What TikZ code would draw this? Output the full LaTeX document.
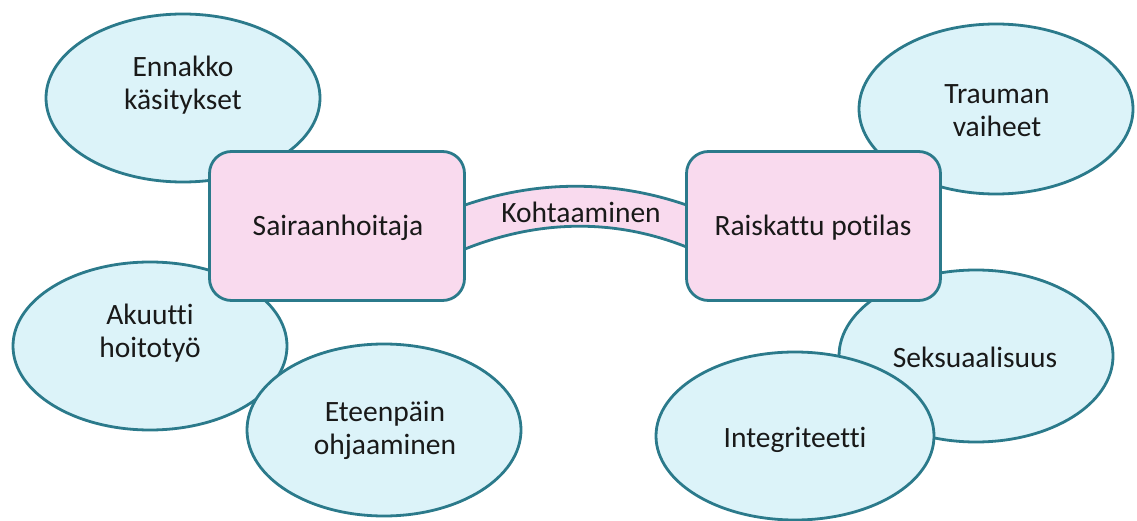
\documentclass[tikz,border=0pt]{standalone}
\usepackage{fontspec}
\setmainfont{Carlito}[Ligatures=NoCommon]
\usetikzlibrary{shapes.geometric,calc}
\definecolor{edge}{RGB}{43,122,139}
\definecolor{ovalfill}{RGB}{220,243,249}
\definecolor{boxfill}{RGB}{249,218,238}
\definecolor{ink}{RGB}{25,25,25}
\tikzset{
  oval/.style={ellipse, draw=edge, fill=ovalfill, line width=2.8pt, inner sep=0pt, minimum width=274pt, minimum height=170pt},
  hub/.style={rectangle, rounded corners=22pt, draw=edge, fill=boxfill, line width=2.8pt, inner sep=0pt, minimum width=255pt, minimum height=149pt},
  lbl/.style={text=ink, align=center, inner sep=0pt, font=\fontsize{29.5}{33}\selectfont},
  band/.style={draw=edge, fill=boxfill, line width=2.8pt}
}
\begin{document}
\begin{tikzpicture}[x=1pt,y=-1pt]
\useasboundingbox (0,0) rectangle (1137,521);
% ovals behind the hubs
\node[oval, minimum height=168pt] (e1) at (183,98) {};
\node[oval] (e2) at (996,109) {};
\node[oval, minimum height=168pt] (e3) at (150,346) {};
\node[oval, minimum height=172pt] (e4) at (384,430) {};
\node[oval, minimum height=172pt] (e5) at (976,356) {};
\node[oval, minimum width=278pt, minimum height=168pt] (e6) at (795,436) {};
% hubs (positions)
\coordinate (sc) at (337,226);
\coordinate (rc) at (813.5,226);
% band connector between hubs
\path (sc) ++(128,0) coordinate (sE);
\path (rc) ++(-127,0) coordinate (rW);
\draw[band] ($(sE)+(-10,-21)$) -- ($(sE)+(0,-21)$)
   .. controls ($(sE)+(73,-46)$) and ($(rW)+(-73,-46)$) .. ($(rW)+(0,-21)$)
   -- ($(rW)+(10,-21)$) -- ($(rW)+(10,21)$) -- ($(rW)+(0,21)$)
   .. controls ($(rW)+(-73,-8)$) and ($(sE)+(73,-6)$) .. ($(sE)+(0,23)$)
   -- ($(sE)+(-10,23)$) -- cycle;
\node[hub] (s) at (sc) {};
\node[hub, minimum width=254pt] (r) at (rc) {};
% labels
\node[lbl] (t1) at (183,85) {Ennakko\\käsitykset};
\node[lbl] (t2) at (997,111) {Trauman\\vaiheet};
\node[lbl] (t3) at (150,333) {Akuutti\\hoitotyö};
\node[lbl] (t4) at (385,430) {Eteenpäin\\ohjaaminen};
\node[lbl] (t5) at (975,357) {Seksuaalisuus};
\node[lbl] (t6) at (795,440) {Integriteetti};
\node[lbl] (ts) at (338,228) {Sairaanhoitaja};
\node[lbl] (tr) at (813,228) {Raiskattu potilas};
\node[lbl] (tk) at (581,212) {Kohtaaminen};
\end{tikzpicture}
\end{document}
